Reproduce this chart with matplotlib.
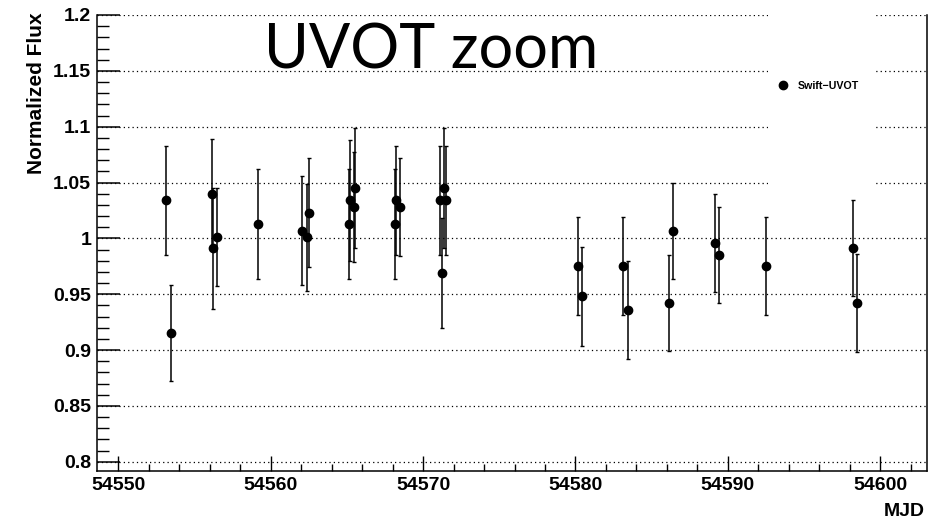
#!/usr/bin/env python3

import matplotlib
matplotlib.use("Agg")
import matplotlib.pyplot as plt
from matplotlib.lines import Line2D
from matplotlib.patches import Rectangle
from matplotlib.ticker import FixedLocator, MultipleLocator

# Swift-UVOT light curve (zoom)
mjd = [54553.11, 54553.44, 54556.13, 54556.19, 54556.46, 54559.17,
       54562.03, 54562.36, 54562.53, 54565.14, 54565.20, 54565.47,
       54565.51, 54568.16, 54568.20, 54568.49, 54571.11, 54571.22,
       54571.39, 54571.50, 54580.14, 54580.45, 54583.14, 54583.47,
       54586.16, 54586.42, 54589.15, 54589.44, 54592.48, 54598.23,
       54598.49]
flux = [1.034, 0.915, 1.040, 0.991, 1.001, 1.013,
        1.007, 1.001, 1.023, 1.013, 1.034, 1.028,
        1.045, 1.013, 1.034, 1.028, 1.034, 0.969,
        1.045, 1.034, 0.975, 0.948, 0.975, 0.936,
        0.942, 1.007, 0.996, 0.985, 0.975, 0.991,
        0.942]
flux_err = [0.049, 0.043, 0.049, 0.054, 0.044, 0.049,
            0.049, 0.048, 0.049, 0.049, 0.054, 0.049,
            0.054, 0.049, 0.049, 0.044, 0.049, 0.049,
            0.054, 0.049, 0.044, 0.044, 0.044, 0.044,
            0.043, 0.043, 0.044, 0.043, 0.044, 0.043,
            0.044]

y_ticks = [0.8, 0.85, 0.9, 0.95, 1.0, 1.05, 1.1, 1.15, 1.2]
y_tick_labels = ["0.8", "0.85", "0.9", "0.95", "1", "1.05", "1.1", "1.15", "1.2"]
x_ticks = [54550, 54560, 54570, 54580, 54590, 54600]
x_tick_labels = ["54550", "54560", "54570", "54580", "54590", "54600"]

plt.rcParams["font.family"] = ["Liberation Sans", "DejaVu Sans"]

fig = plt.figure(figsize=(9.52, 5.19), dpi=100)
ax = fig.add_axes([0.1016, 0.0925, 0.8718, 0.8786])

ax.errorbar(mjd, flux, yerr=flux_err, fmt="o", color="black",
            markersize=6.0, elinewidth=1.1, capsize=1.2, capthick=1.0,
            zorder=3)

ax.set_xlim(54548.58, 54603.05)
ax.set_ylim(0.7917, 1.2)

# ROOT-ish axes: ticks inside, no ticks on top/right
ax.yaxis.set_major_locator(FixedLocator(y_ticks))
ax.set_yticklabels(y_tick_labels)
ax.yaxis.set_minor_locator(MultipleLocator(0.01))
ax.set_xticks(x_ticks)
ax.set_xticklabels(x_tick_labels)
ax.xaxis.set_minor_locator(MultipleLocator(2))

ax.tick_params(axis="y", which="major", direction="in", length=16.5, width=1.1,
               labelsize=14, pad=4)
ax.tick_params(axis="y", which="minor", direction="in", length=8.6, width=1.0)
ax.tick_params(axis="x", which="major", direction="in", length=10.8, width=1.0,
               labelsize=14, pad=4.5)
ax.tick_params(axis="x", which="minor", direction="in", length=5.4, width=1.0)
for lab in ax.get_xticklabels() + ax.get_yticklabels():
    lab.set_fontweight("bold")

for side in ["left", "right", "bottom"]:
    ax.spines[side].set_linewidth(1.1)
ax.spines["top"].set_visible(False)

ax.set_axisbelow(True)
ax.yaxis.grid(True, which="major", color="black", linestyle=(0, (1, 2.5)),
              linewidth=0.9)

ax.set_ylabel("Normalized Flux", loc="top", fontsize=15, fontweight="bold",
              va="baseline")
ax.yaxis.set_label_coords(-0.066, 1.0066)
ax.set_xlabel("MJD", loc="right", fontsize=14, fontweight="bold",
              va="baseline")
ax.xaxis.set_label_coords(0.998, -0.0987)

# big title inside the pad
fig.text(264.0 / 952, 1 - 68.3 / 519, "UVOT zoom", fontsize=44, family="Lato",
         ha="left", va="baseline")

# legend box (white, no border) covering the grid
ax.add_patch(Rectangle((0.8088, 0.605), 0.1289, 0.42, transform=ax.transAxes,
                       facecolor="white", edgecolor="none", clip_on=False,
                       zorder=1))
handle = Line2D([], [], marker="o", color="black", linestyle="none",
                markersize=6.0)
leg = ax.legend([handle], ["Swift\u2212UVOT"], loc="center left",
                bbox_to_anchor=(0.8146, 0.8443), frameon=False, borderpad=0,
                handlelength=1.0, handletextpad=0.85,
                prop={"size": 7.7, "weight": "bold"})
leg.set_zorder(4)

plt.savefig("out.png", dpi=100)
